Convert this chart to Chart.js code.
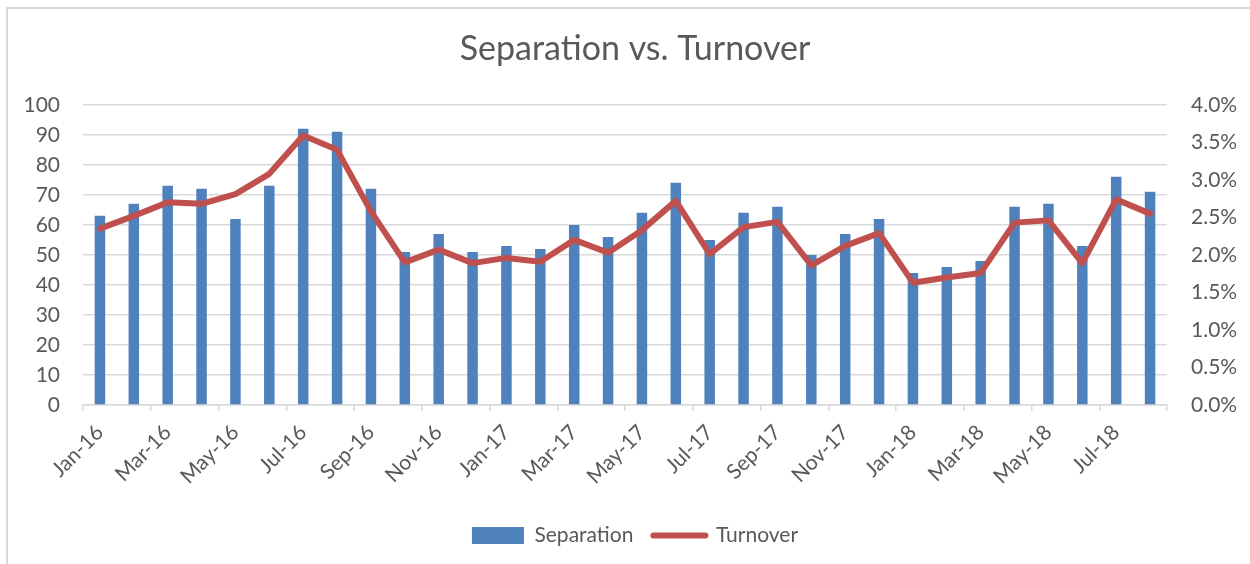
<!DOCTYPE html>
<html>
<head>
<meta charset="utf-8">
<script src="https://cdn.jsdelivr.net/npm/chart.js@4/dist/chart.umd.min.js"></script>
<style>
  html, body { margin: 0; padding: 0; background: #fff; overflow: hidden; }
  #frame { position: absolute; left: 6px; top: 7px; width: 1300px; height: 600px; border: 2px solid #d9d9d9; }
  #wrap { position: absolute; left: 0; top: 0; width: 1250px; height: 564px; }
</style>
</head>
<body>
<div id="frame"></div>
<div id="wrap"><canvas id="chart" width="1250" height="564"></canvas></div>
<script>
// months Jan-16 .. Aug-18
const months = ['Jan-16', 'Feb-16', 'Mar-16', 'Apr-16', 'May-16', 'Jun-16', 'Jul-16', 'Aug-16',
    'Sep-16', 'Oct-16', 'Nov-16', 'Dec-16', 'Jan-17', 'Feb-17', 'Mar-17', 'Apr-17',
    'May-17', 'Jun-17', 'Jul-17', 'Aug-17', 'Sep-17', 'Oct-17', 'Nov-17', 'Dec-17',
    'Jan-18', 'Feb-18', 'Mar-18', 'Apr-18', 'May-18', 'Jun-18', 'Jul-18', 'Aug-18'];

// number of separations per month
const separation = [63, 67, 73, 72, 62, 73, 92, 91, 72, 51, 57, 51, 53, 52, 60, 56,
    64, 74, 55, 64, 66, 50, 57, 62, 44, 46, 48, 66, 67, 53, 76, 71];

// turnover rate in %
const turnover = [2.35, 2.52, 2.70, 2.68, 2.81, 3.08, 3.59, 3.40, 2.58, 1.90, 2.07, 1.89,
    1.96, 1.91, 2.20, 2.03, 2.33, 2.72, 2.01, 2.37, 2.44, 1.86, 2.12, 2.29,
    1.63, 1.70, 1.76, 2.43, 2.46, 1.89, 2.74, 2.55];

const leftTicks = [0, 10, 20, 30, 40, 50, 60, 70, 80, 90, 100];
const rightTicks = [0, 0.5, 1, 1.5, 2, 2.5, 3, 3.5, 4];

const blue = '#4f81bd';
const red = '#c0504d';
const grey = '#595959';
const gridGrey = '#d9d9d9';
const fontName = 'Lato, "Open Sans", sans-serif';

const ctx = document.getElementById('chart').getContext('2d');

new Chart(ctx, {
    type: 'bar',
    data: {
        labels: months,
        datasets: [
            {
                type: 'line',
                label: 'Turnover',
                data: turnover,
                yAxisID: 'y1',
                borderColor: red,
                backgroundColor: red,
                borderWidth: 6,
                borderJoinStyle: 'round',
                borderCapStyle: 'round',
                pointRadius: 0,
                tension: 0,
                order: 1
            },
            {
                label: 'Separation',
                data: separation,
                yAxisID: 'y',
                backgroundColor: blue,
                barPercentage: 0.31,
                categoryPercentage: 1.0,
                order: 2
            }
        ]
    },
    options: {
        responsive: false,
        animation: false,
        layout: { padding: { left: 20, right: 0, top: 0, bottom: 8 } },
        scales: {
            x: {
                offset: true,
                grid: {
                    offset: true,
                    drawOnChartArea: false,
                    drawTicks: true,
                    tickLength: 6,
                    lineWidth: 1.5,
                    color: c => (c.index === undefined || c.index % 2 === 0) ? gridGrey : 'rgba(0,0,0,0)'
                },
                border: { display: true, color: gridGrey, width: 1.5 },
                ticks: {
                    autoSkip: false,
                    minRotation: 45,
                    maxRotation: 45,
                    padding: 9,
                    color: grey,
                    font: { family: fontName, size: 21 },
                    callback: function (v, i) { return i % 2 === 0 ? months[i] : ''; }
                },
                afterFit: s => { s.height = 100; }
            },
            y: {
                position: 'left',
                min: 0,
                max: 100,
                afterBuildTicks: s => { s.ticks = leftTicks.map(v => ({ value: v })); },
                grid: { color: gridGrey, lineWidth: 1.5, drawTicks: false },
                border: { display: false },
                ticks: { padding: 23, color: grey, font: { family: fontName, size: 21 } },
                afterFit: s => { s.width = 63; }
            },
            y1: {
                position: 'right',
                min: 0,
                max: 4,
                afterBuildTicks: s => { s.ticks = rightTicks.map(v => ({ value: v })); },
                grid: { drawOnChartArea: false, drawTicks: false },
                border: { display: false },
                ticks: {
                    padding: 24,
                    color: grey,
                    font: { family: fontName, size: 21 },
                    callback: v => v.toFixed(1) + '%'
                },
                afterFit: s => { s.width = 83; }
            }
        },
        plugins: {
            title: {
                display: true,
                text: 'Separation vs. Turnover',
                color: grey,
                font: { family: fontName, size: 34, weight: 'normal' },
                padding: { top: 29, bottom: 35 }
            },
            legend: {
                position: 'bottom',
                labels: {
                    usePointStyle: true,
                    pointStyleWidth: 52,
                    boxHeight: 17,
                    padding: 20,
                    color: grey,
                    font: { family: fontName, size: 21 },
                    generateLabels: () => [
                        { text: 'Separation', fillStyle: blue, strokeStyle: blue, lineWidth: 0, pointStyle: 'rect', datasetIndex: 1, fontColor: grey },
                        { text: 'Turnover', fillStyle: red, strokeStyle: red, lineWidth: 6, lineCap: 'round', pointStyle: 'line', datasetIndex: 0, fontColor: grey }
                    ]
                }
            },
            tooltip: { enabled: false }
        }
    }
});
</script>
</body>
</html>
